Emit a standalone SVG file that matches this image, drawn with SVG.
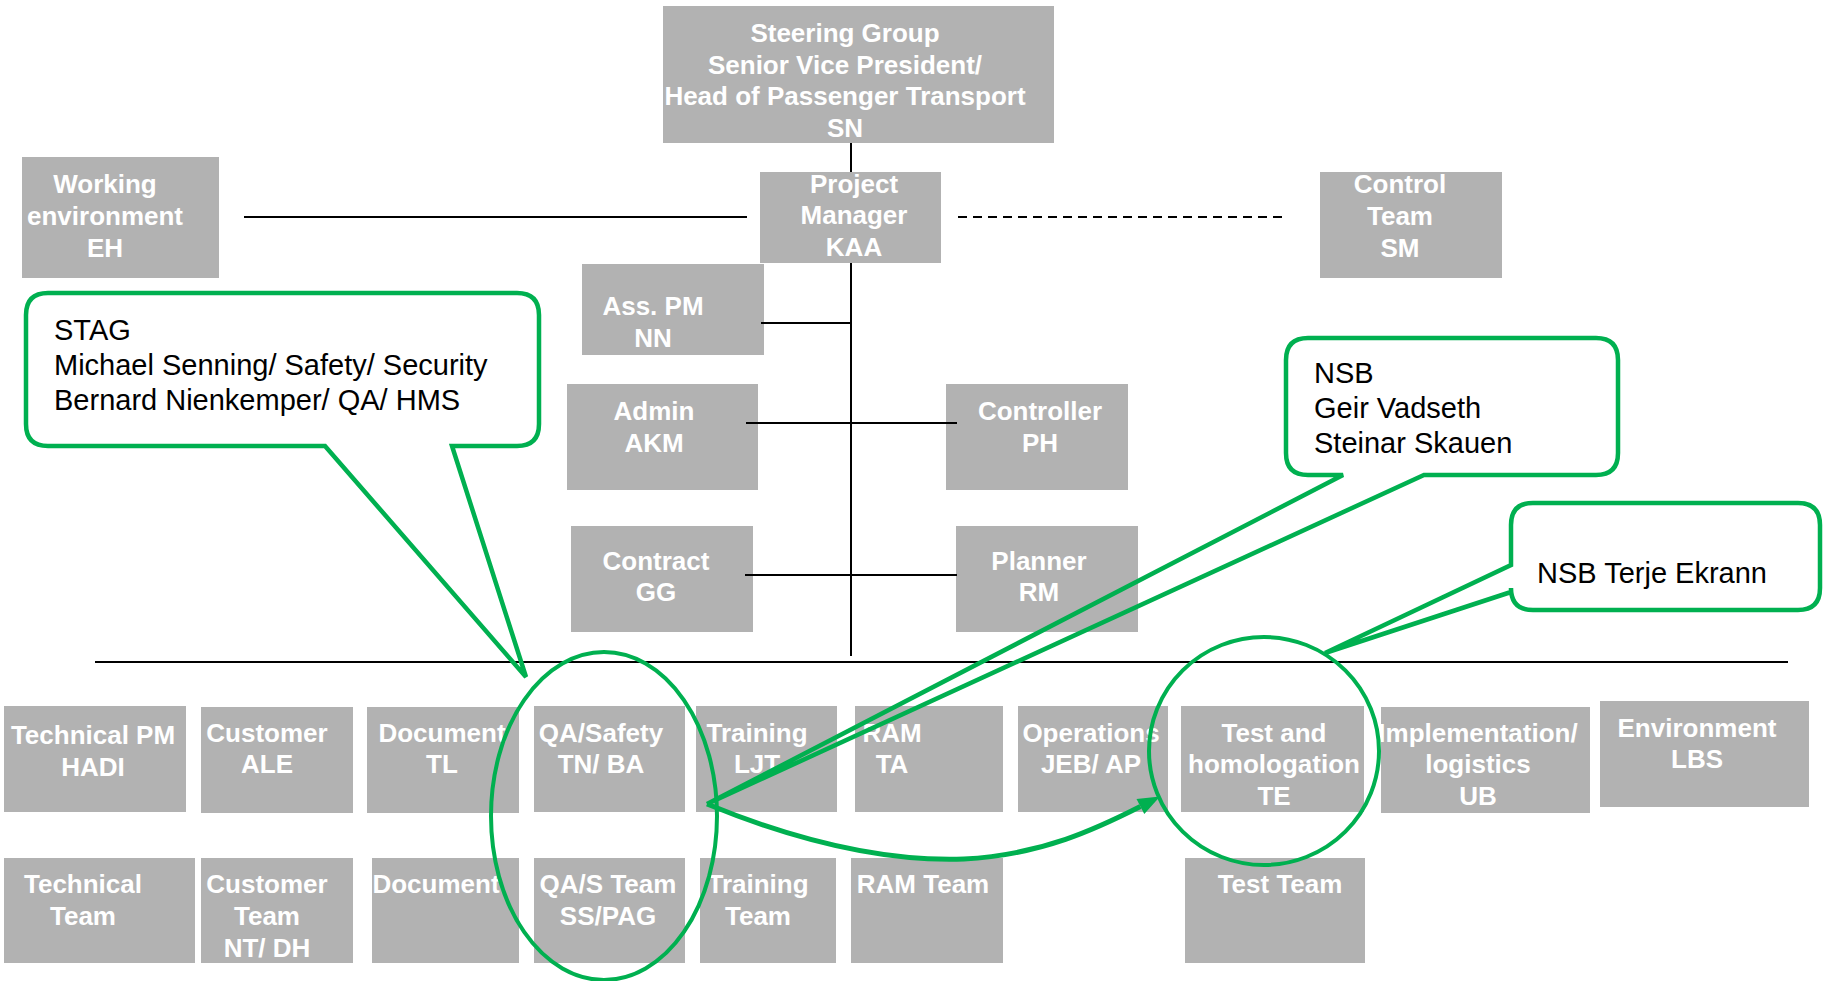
<svg xmlns="http://www.w3.org/2000/svg" width="1825" height="981" viewBox="0 0 1825 981">
<style>
.box{fill:#B2B2B2}
.t{font-family:"Liberation Sans",Arial,sans-serif;font-weight:bold;font-size:26px;fill:#FFFFFF;text-anchor:middle}
.c{font-family:"Liberation Sans",Arial,sans-serif;font-size:29px;fill:#000000}
.ln{stroke:#000000;stroke-width:2;fill:none}
.g{stroke:#00B050;stroke-width:4.5;fill:none;stroke-linejoin:miter}
.e{stroke:#00B050;stroke-width:4;fill:none}
</style>
<rect width="1825" height="981" fill="#FFFFFF"/>
<g id="nodes">
<g id="steering"><rect class="box" x="663" y="6" width="391" height="137"/><text class="t" x="845" y="42">Steering Group</text><text class="t" x="845" y="74">Senior Vice President/</text><text class="t" x="845" y="105">Head of Passenger Transport</text><text class="t" x="845" y="137">SN</text></g>
<g id="working"><rect class="box" x="22" y="157" width="197" height="121"/><text class="t" x="105" y="193">Working</text><text class="t" x="105" y="225">environment</text><text class="t" x="105" y="257">EH</text></g>
<g id="pm"><rect class="box" x="760" y="172" width="181" height="91"/><text class="t" x="854" y="193">Project</text><text class="t" x="854" y="224">Manager</text><text class="t" x="854" y="256">KAA</text></g>
<g id="control"><rect class="box" x="1320" y="172" width="182" height="106"/><text class="t" x="1400" y="193">Control</text><text class="t" x="1400" y="225">Team</text><text class="t" x="1400" y="257">SM</text></g>
<g id="asspm"><rect class="box" x="582" y="264" width="182" height="91"/><text class="t" x="653" y="315">Ass. PM</text><text class="t" x="653" y="347">NN</text></g>
<g id="admin"><rect class="box" x="567" y="384" width="191" height="106"/><text class="t" x="654" y="420">Admin</text><text class="t" x="654" y="452">AKM</text></g>
<g id="controller"><rect class="box" x="946" y="384" width="182" height="106"/><text class="t" x="1040" y="420">Controller</text><text class="t" x="1040" y="452">PH</text></g>
<g id="contract"><rect class="box" x="571" y="526" width="182" height="106"/><text class="t" x="656" y="570">Contract</text><text class="t" x="656" y="601">GG</text></g>
<g id="planner"><rect class="box" x="956" y="526" width="182" height="106"/><text class="t" x="1039" y="570">Planner</text><text class="t" x="1039" y="601">RM</text></g>
<g id="techpm"><rect class="box" x="4" y="706" width="182" height="106"/><text class="t" x="93" y="744">Technical PM</text><text class="t" x="93" y="776">HADI</text></g>
<g id="customer"><rect class="box" x="201" y="707" width="152" height="106"/><text class="t" x="267" y="742">Customer</text><text class="t" x="267" y="773">ALE</text></g>
<g id="document"><rect class="box" x="367" y="707" width="152" height="106"/><text class="t" x="442" y="742">Document</text><text class="t" x="442" y="773">TL</text></g>
<g id="qasafety"><rect class="box" x="534" y="706" width="151" height="106"/><text class="t" x="601" y="742">QA/Safety</text><text class="t" x="601" y="773">TN/ BA</text></g>
<g id="training"><rect class="box" x="696" y="706" width="141" height="106"/><text class="t" x="757" y="742">Training</text><text class="t" x="757" y="773">LJT</text></g>
<g id="ram"><rect class="box" x="855" y="706" width="148" height="106"/><text class="t" x="892" y="742">RAM</text><text class="t" x="892" y="773">TA</text></g>
<g id="operations"><rect class="box" x="1018" y="706" width="150" height="106"/><text class="t" x="1091" y="742">Operations</text><text class="t" x="1091" y="773">JEB/ AP</text></g>
<g id="test"><rect class="box" x="1181" y="706" width="183" height="106"/><text class="t" x="1274" y="742">Test and</text><text class="t" x="1274" y="773">homologation</text><text class="t" x="1274" y="805">TE</text></g>
<g id="implementation"><rect class="box" x="1381" y="707" width="209" height="106"/><text class="t" x="1478" y="742">Implementation/</text><text class="t" x="1478" y="773">logistics</text><text class="t" x="1478" y="805">UB</text></g>
<g id="environment"><rect class="box" x="1600" y="701" width="209" height="106"/><text class="t" x="1697" y="737">Environment</text><text class="t" x="1697" y="768">LBS</text></g>
<g id="techteam"><rect class="box" x="4" y="858" width="191" height="105"/><text class="t" x="83" y="893">Technical</text><text class="t" x="83" y="925">Team</text></g>
<g id="custteam"><rect class="box" x="201" y="858" width="152" height="105"/><text class="t" x="267" y="893">Customer</text><text class="t" x="267" y="925">Team</text><text class="t" x="267" y="957">NT/ DH</text></g>
<g id="docteam"><rect class="box" x="372" y="858" width="147" height="105"/><text class="t" x="436" y="893">Document</text></g>
<g id="qasteam"><rect class="box" x="534" y="858" width="151" height="105"/><text class="t" x="608" y="893">QA/S Team</text><text class="t" x="608" y="925">SS/PAG</text></g>
<g id="trainteam"><rect class="box" x="700" y="858" width="136" height="105"/><text class="t" x="758" y="893">Training</text><text class="t" x="758" y="925">Team</text></g>
<g id="ramteam"><rect class="box" x="851" y="858" width="152" height="105"/><text class="t" x="923" y="893">RAM Team</text></g>
<g id="testteam"><rect class="box" x="1185" y="858" width="180" height="105"/><text class="t" x="1280" y="893">Test Team</text></g>
</g>
<g id="connectors">
<line class="ln" x1="851" y1="143" x2="851" y2="172"/>
<line class="ln" x1="851" y1="263" x2="851" y2="656"/>
<line class="ln" x1="244" y1="217" x2="747" y2="217" stroke-width="2.5"/>
<line class="ln" x1="958" y1="217" x2="1287" y2="217" stroke-dasharray="9 6"/>
<line class="ln" x1="761" y1="323" x2="851" y2="323"/>
<line class="ln" x1="746" y1="423" x2="957" y2="423"/>
<line class="ln" x1="745" y1="575" x2="957" y2="575"/>
<line class="ln" x1="95" y1="662" x2="1788" y2="662"/>
</g>
<g id="callout-stag">
<path class="g" d="M48,293 H517 Q539,293 539,315 V424 Q539,446 517,446 H452 L526,677 L325,446 H48 Q26,446 26,424 V315 Q26,293 48,293 Z"/>
<text class="c" x="54" y="340">STAG</text>
<text class="c" x="54" y="375">Michael Senning/ Safety/ Security</text>
<text class="c" x="54" y="410">Bernard Nienkemper/ QA/ HMS</text>
</g>
<g id="callout-nsb">
<path class="g" d="M1308,338 H1596 Q1618,338 1618,360 V453 Q1618,475 1596,475 H1424 L707,804 L1343,475 H1308 Q1286,475 1286,453 V360 Q1286,338 1308,338 Z"/>
<text class="c" x="1314" y="383">NSB</text>
<text class="c" x="1314" y="418">Geir Vadseth</text>
<text class="c" x="1314" y="453">Steinar Skauen</text>
</g>
<g id="callout-terje">
<path class="g" d="M1533,503 H1798 Q1820,503 1820,525 V588 Q1820,610 1798,610 H1533 Q1511,610 1511,588 V592 L1325,653 L1511,565 V525 Q1511,503 1533,503 Z"/>
<text class="c" x="1537" y="583">NSB Terje Ekrann</text>
</g>
<g id="highlights">
<ellipse class="e" cx="604" cy="816" rx="113" ry="164"/>
<ellipse class="e" cx="1264" cy="751" rx="115" ry="114"/>
<path d="M707,804 C790,838 880,862 964,859 C1042,855 1098,828 1140.4,806.5" stroke="#00B050" stroke-width="5" fill="none"/>
<polygon points="1160,796.5 1144.3,814.1 1136.5,798.9" fill="#00B050"/>
</g>
</svg>
